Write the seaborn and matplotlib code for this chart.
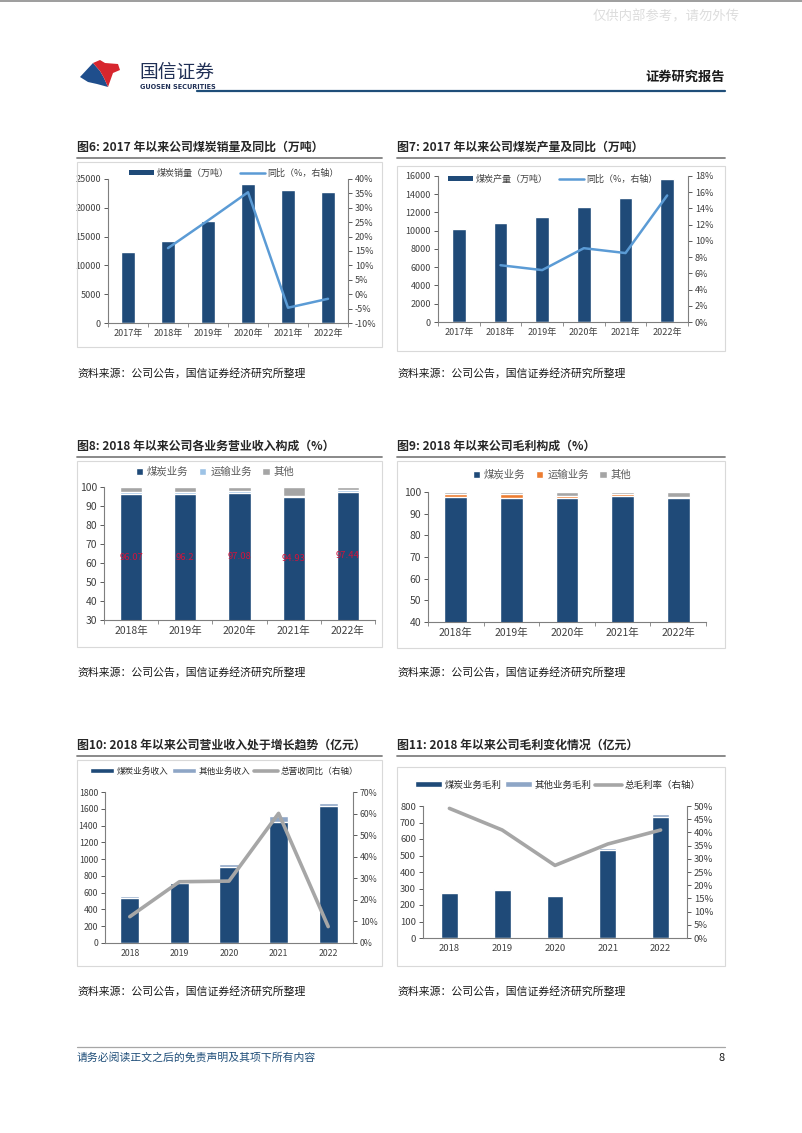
import matplotlib
matplotlib.use('Agg')
import numpy as np
import pandas as pd
import seaborn as sns
import matplotlib.pyplot as plt
from matplotlib.patches import Rectangle, Polygon, Patch
from matplotlib.lines import Line2D
from matplotlib.ticker import FuncFormatter, MultipleLocator, FixedLocator

# ---------------- data ----------------
years6 = ['2017年', '2018年', '2019年', '2020年', '2021年', '2022年']
sales6 = [12300, 14240, 17760, 24130, 23040, 22690]
sales6_yoy = [None, 16.0, 25.6, 35.4, -4.7, -1.6]

prod7 = [10160, 10815, 11510, 12570, 13590, 15700]
prod7_yoy = [None, 7.0, 6.4, 9.1, 8.5, 15.6]

years8 = ['2018年', '2019年', '2020年', '2021年', '2022年']
rev8_coal = [96.07, 96.2, 97.08, 94.93, 97.44]
rev8_trans = [1.5, 1.3, 0.7, 0.4, 1.0]
rev8_labels = ['96.07', '96.2', '97.08', '94.93', '97.44']

gp9_coal = [97.6, 97.1, 97.3, 98.3, 97.2]
gp9_trans = [1.4, 1.8, 0.9, 0.6, 0.4]

years10 = ['2018', '2019', '2020', '2021', '2022']
rev10_coal = [542, 719, 906, 1446, 1633]
rev10_other = [24, 12, 36, 71, 36]
rev10_yoy = [12.2, 28.4, 28.7, 60.1, 7.6]

gp11_coal = [270, 288, 256, 536, 733]
gp11_other = [4, 10, 4, 8, 17]
gp11_margin = [49.1, 40.9, 27.5, 35.6, 40.9]

# ---------------- style ----------------
sns.set_theme(style='white')
plt.rcParams['font.family'] = ['Noto Sans CJK SC', 'DejaVu Sans']
plt.rcParams['axes.unicode_minus'] = False

NAVY = '#1F4A78'
LBLUE = '#5B9BD5'
PALEBLUE = '#9DC3E6'
GRAY = '#A5A5A5'
ORANGE = '#ED7D31'
GBLUE = '#8EA6C6'
LGRAY = '#A6A6A6'
TXT = '#404040'
SPINE = '#7F7F7F'

W, H = 802, 1133
fig = plt.figure(figsize=(W / 100, H / 100), dpi=100)
fig.patch.set_facecolor('white')


def px_axes(l, t, r, b):
    return fig.add_axes([l / W, 1 - b / H, (r - l) / W, (b - t) / H])


def ftext(x, y, s, **kw):
    fig.text(x / W, 1 - y / H, s, **kw)


def fline(x0, x1, y0, y1, **kw):
    fig.add_artist(Line2D([x0 / W, x1 / W], [1 - y0 / H, 1 - y1 / H],
                          transform=fig.transFigure, **kw))


def frect(l, t, r, b, **kw):
    fig.add_artist(Rectangle((l / W, 1 - b / H), (r - l) / W, (b - t) / H,
                             transform=fig.transFigure, **kw))


def fpoly(pts, **kw):
    fig.add_artist(Polygon([(x / W, 1 - y / H) for x, y in pts], closed=True,
                           transform=fig.transFigure, **kw))


def panel(l, r, ty, box_t, box_b, src_y, title):
    ftext(l, ty, title, fontsize=8.6, fontweight='bold', va='center', ha='left', color='#262626')
    fline(l, r, ty + 11, ty + 11, color='#808080', lw=1.3)
    frect(l, box_t, r, box_b, fill=False, ec='#D9D9D9', lw=0.8)
    ftext(l, src_y, '资料来源：公司公告，国信证券经济研究所整理', fontsize=7.8,
          va='center', ha='left', color='#1a1a1a')


def style_ax(ax, n, fs):
    ax.set_facecolor('none')
    for s in ['top', 'right']:
        ax.spines[s].set_visible(False)
    for s in ['left', 'bottom']:
        ax.spines[s].set_color(SPINE)
        ax.spines[s].set_linewidth(0.8)
    ax.tick_params(axis='y', labelsize=fs, colors=TXT, length=3, width=0.6,
                   direction='out', left=True, pad=2)
    ax.tick_params(axis='x', which='major', labelsize=fs, colors=TXT, length=0, pad=4)
    ax.xaxis.set_minor_locator(FixedLocator(np.arange(-0.5, n + 0.5, 1.0)))
    ax.tick_params(axis='x', which='minor', length=3, width=0.6, color=SPINE, bottom=True)
    ax.set_xlim(-0.5, n - 0.5)
    ax.set_xlabel('')
    ax.set_ylabel('')
    ax.grid(False)


def style_twin(ax2, fs):
    ax2.set_facecolor('none')
    for s in ['top', 'left', 'bottom']:
        ax2.spines[s].set_visible(False)
    ax2.spines['right'].set_visible(True)
    ax2.spines['right'].set_color(SPINE)
    ax2.spines['right'].set_linewidth(0.8)
    ax2.tick_params(axis='y', labelsize=fs, colors=TXT, length=3, width=0.6,
                    direction='out', right=True, pad=2)
    ax2.yaxis.set_major_formatter(FuncFormatter(lambda v, p: f'{v:.0f}%'))
    ax2.set_ylabel('')
    ax2.set_xlabel('')
    ax2.grid(False)


# ---------------- page decorations ----------------
fline(0, W, 1, 1, color='#8c8c8c', lw=1.2)
ftext(593, 16, '仅供内部参考，请勿外传', fontsize=9.6, color='#DDDDDD', va='center', ha='left')

# logo
fpoly([(80, 77), (93, 63), (100, 71), (104, 78), (108, 87), (97, 84), (88, 82)],
      fc='#1F4E8C', ec='none')
fpoly([(93, 63), (100, 60), (105, 63), (118, 64), (120, 70), (113, 73), (108, 87),
       (104, 78), (100, 71)], fc='#D7262E', ec='none')
ftext(139, 72, '国信证券', fontsize=13.5, color='#1f2f55', va='center', ha='left')
ftext(140, 87, 'GUOSEN SECURITIES', fontsize=4.7, fontweight='bold', color='#1f2f55',
      va='center', ha='left', family=['DejaVu Sans'])
ftext(725, 77, '证券研究报告', fontsize=9.5, fontweight='bold', color='#1a1a1a', va='center', ha='right')
fline(197, 725, 91, 91, color='#1F4E79', lw=1.6)

# footer
fline(77, 725, 1047, 1047, color='#A6A6A6', lw=0.9)
ftext(77, 1057, '请务必阅读正文之后的免责声明及其项下所有内容', fontsize=7.8, color='#1F4E79',
      va='center', ha='left', style='italic')
ftext(725, 1058, '8', fontsize=8, color='#1a1a1a', va='center', ha='right')

# ---------------- panels ----------------
panel(77, 382, 147, 162, 347, 373, '图6: 2017 年以来公司煤炭销量及同比（万吨）')
panel(397, 725, 147, 166, 351, 373, '图7: 2017 年以来公司煤炭产量及同比（万吨）')
panel(77, 382, 446, 461, 647, 672, '图8: 2018 年以来公司各业务营业收入构成（%）')
panel(397, 725, 446, 461, 648, 672, '图9: 2018 年以来公司毛利构成（%）')
panel(77, 382, 745, 760, 966, 991, '图10: 2018 年以来公司营业收入处于增长趋势（亿元）')
panel(397, 725, 745, 767, 966, 991, '图11: 2018 年以来公司毛利变化情况（亿元）')

# ----- Chart 6 -----
ax = px_axes(108, 179, 348, 323)
sns.barplot(x=years6, y=sales6, color=NAVY, saturation=1, width=0.33, errorbar=None, ax=ax)
ax.set_ylim(0, 25000)
ax.yaxis.set_major_locator(MultipleLocator(5000))
style_ax(ax, len(years6), 6.5)
ax2 = ax.twinx()
d6 = pd.DataFrame({'x': np.arange(len(years6)), 'y': sales6_yoy}).dropna()
sns.lineplot(data=d6, x='x', y='y', color=LBLUE, lw=1.8, ax=ax2)
ax2.set_ylim(-10, 40)
ax2.yaxis.set_major_locator(MultipleLocator(5))
style_twin(ax2, 6.5)
ax.set_xlim(-0.5, len(years6) - 0.5)
fig.legend(handles=[Patch(fc=NAVY, ec='none', label='煤炭销量（万吨）'),
                    Line2D([], [], color=LBLUE, lw=1.8, label='同比（%，右轴）')],
           loc='center', bbox_to_anchor=(234 / W, 1 - 173 / H), ncol=2, frameon=False,
           fontsize=6.5, handlelength=2.8, handleheight=0.55, handletextpad=0.3,
           columnspacing=1.2, labelcolor=TXT)

# ----- Chart 7 -----
ax = px_axes(438, 176, 688, 322)
sns.barplot(x=years6, y=prod7, color=NAVY, saturation=1, width=0.33, errorbar=None, ax=ax)
ax.set_ylim(0, 16000)
ax.yaxis.set_major_locator(MultipleLocator(2000))
style_ax(ax, len(years6), 6.5)
ax2 = ax.twinx()
d7 = pd.DataFrame({'x': np.arange(len(years6)), 'y': prod7_yoy}).dropna()
sns.lineplot(data=d7, x='x', y='y', color=LBLUE, lw=1.8, ax=ax2)
ax2.set_ylim(0, 18)
ax2.yaxis.set_major_locator(MultipleLocator(2))
style_twin(ax2, 6.5)
ax.set_xlim(-0.5, len(years6) - 0.5)
fig.legend(handles=[Patch(fc=NAVY, ec='none', label='煤炭产量（万吨）'),
                    Line2D([], [], color=LBLUE, lw=1.8, label='同比（%，右轴）')],
           loc='center', bbox_to_anchor=(553 / W, 1 - 179 / H), ncol=2, frameon=False,
           fontsize=6.5, handlelength=2.8, handleheight=0.55, handletextpad=0.3,
           columnspacing=1.2, labelcolor=TXT)

# ----- Chart 8 -----
ax = px_axes(104, 487, 375, 620)
tot8 = [100.0] * len(years8)
ct8 = [c + t for c, t in zip(rev8_coal, rev8_trans)]
sns.barplot(x=years8, y=tot8, color=GRAY, saturation=1, width=0.41, errorbar=None, ax=ax)
sns.barplot(x=years8, y=ct8, color=PALEBLUE, saturation=1, width=0.41, errorbar=None, ax=ax)
sns.barplot(x=years8, y=rev8_coal, color=NAVY, saturation=1, width=0.41, errorbar=None, ax=ax)
ax.set_ylim(30, 100)
ax.yaxis.set_major_locator(MultipleLocator(10))
style_ax(ax, len(years8), 7.5)
for i, (v, lab) in enumerate(zip(rev8_coal, rev8_labels)):
    ax.text(i, (30 + v) / 2, lab, ha='center', va='center', fontsize=6.8, color='#D0143C')
fig.legend(handles=[Patch(fc=NAVY, label='煤炭业务'), Patch(fc=PALEBLUE, label='运输业务'),
                    Patch(fc=GRAY, label='其他')],
           loc='center', bbox_to_anchor=(215 / W, 1 - 472 / H), ncol=3, frameon=False,
           fontsize=7.5, handlelength=0.7, handleheight=0.7, handletextpad=0.4,
           columnspacing=1.0, labelcolor='#595959')

# ----- Chart 9 -----
ax = px_axes(428, 492, 706, 622)
ct9 = [c + t for c, t in zip(gp9_coal, gp9_trans)]
sns.barplot(x=years8, y=tot8, color=GRAY, saturation=1, width=0.41, errorbar=None, ax=ax)
sns.barplot(x=years8, y=ct9, color=ORANGE, saturation=1, width=0.41, errorbar=None, ax=ax)
sns.barplot(x=years8, y=gp9_coal, color=NAVY, saturation=1, width=0.41, errorbar=None, ax=ax)
ax.set_ylim(40, 100)
ax.yaxis.set_major_locator(MultipleLocator(10))
style_ax(ax, len(years8), 7.5)
fig.legend(handles=[Patch(fc=NAVY, label='煤炭业务'), Patch(fc=ORANGE, label='运输业务'),
                    Patch(fc=GRAY, label='其他')],
           loc='center', bbox_to_anchor=(552 / W, 1 - 475 / H), ncol=3, frameon=False,
           fontsize=7.5, handlelength=0.7, handleheight=0.7, handletextpad=0.4,
           columnspacing=1.0, labelcolor='#595959')

# ----- Chart 10 -----
ax = px_axes(105, 792, 353, 943)
tot10 = [c + o for c, o in zip(rev10_coal, rev10_other)]
sns.barplot(x=years10, y=tot10, color=GBLUE, saturation=1, width=0.39, errorbar=None, ax=ax)
sns.barplot(x=years10, y=rev10_coal, color=NAVY, saturation=1, width=0.39, errorbar=None, ax=ax)
ax.set_ylim(0, 1800)
ax.yaxis.set_major_locator(MultipleLocator(200))
style_ax(ax, len(years10), 6.3)
ax.xaxis.set_minor_locator(FixedLocator([]))
ax2 = ax.twinx()
sns.lineplot(x=np.arange(len(years10)), y=rev10_yoy, color=LGRAY, lw=2.6, ax=ax2)
ax2.set_ylim(0, 70)
ax2.yaxis.set_major_locator(MultipleLocator(10))
style_twin(ax2, 6.3)
ax.set_xlim(-0.5, len(years10) - 0.5)
fig.legend(handles=[Patch(fc=NAVY, label='煤炭业务收入'), Patch(fc=GBLUE, label='其他业务收入'),
                    Line2D([], [], color=LGRAY, lw=2.6, label='总营收同比（右轴）')],
           loc='center', bbox_to_anchor=(224 / W, 1 - 771 / H), ncol=3, frameon=False,
           fontsize=6.2, handlelength=2.8, handleheight=0.55, handletextpad=0.3,
           columnspacing=0.4, labelcolor='#262626')

# ----- Chart 11 -----
ax = px_axes(423, 806, 687, 938)
tot11 = [c + o for c, o in zip(gp11_coal, gp11_other)]
sns.barplot(x=years10, y=tot11, color=GBLUE, saturation=1, width=0.32, errorbar=None, ax=ax)
sns.barplot(x=years10, y=gp11_coal, color=NAVY, saturation=1, width=0.32, errorbar=None, ax=ax)
ax.set_ylim(0, 800)
ax.yaxis.set_major_locator(MultipleLocator(100))
style_ax(ax, len(years10), 6.8)
ax.xaxis.set_minor_locator(FixedLocator([]))
ax2 = ax.twinx()
sns.lineplot(x=np.arange(len(years10)), y=gp11_margin, color=LGRAY, lw=2.6, ax=ax2)
ax2.set_ylim(0, 50)
ax2.yaxis.set_major_locator(MultipleLocator(5))
style_twin(ax2, 6.8)
ax.set_xlim(-0.5, len(years10) - 0.5)
fig.legend(handles=[Patch(fc=NAVY, label='煤炭业务毛利'), Patch(fc=GBLUE, label='其他业务毛利'),
                    Line2D([], [], color=LGRAY, lw=2.6, label='总毛利率（右轴）')],
           loc='center', bbox_to_anchor=(558 / W, 1 - 785 / H), ncol=3, frameon=False,
           fontsize=6.8, handlelength=2.8, handleheight=0.55, handletextpad=0.3,
           columnspacing=0.4, labelcolor='#262626')

fig.savefig('out.png', dpi=100, facecolor='white')
